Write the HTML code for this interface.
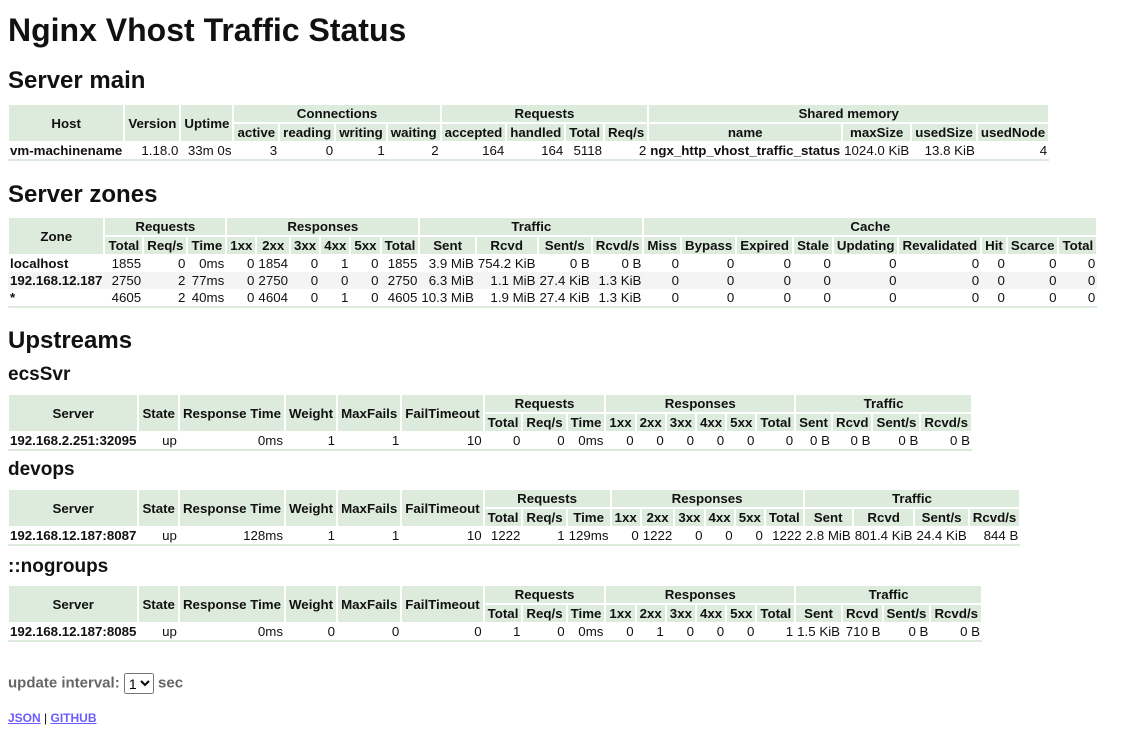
<!DOCTYPE html>
<html><head><meta charset="utf-8">
<style>
html,body{margin:0;padding:0;background:#fff;}
body{width:1137px;height:732px;position:relative;overflow:hidden;font-family:"Liberation Sans",Arial,sans-serif;color:#111;}
.blk{position:absolute;left:8px;margin:0;white-space:nowrap;}
h1.blk{font-size:32px;line-height:37px;top:12px;font-weight:bold;}
h2.blk{font-size:24px;line-height:28px;font-weight:bold;}
h3.blk{font-size:19px;line-height:22px;font-weight:bold;}
table{position:absolute;left:8px;border-collapse:separate;border-spacing:0;font-size:13.3px;border-bottom:2px solid #dcebdc;}
th{background:#dcebdc;border:1px solid #fff;padding:0 3px;line-height:17px;font-weight:bold;text-align:center;white-space:nowrap;}
td{padding:0 2px;line-height:17px;text-align:right;white-space:nowrap;}
td.n{text-align:left;font-weight:bold;}
tr.g td{background:#f4f4f4;}
.upd{position:absolute;left:8px;top:673px;font-size:15px;font-weight:bold;color:#666;line-height:20px;}
.upd select{font-size:14px;height:21px;vertical-align:middle;}
.links{position:absolute;left:8px;top:711px;font-size:12px;font-weight:bold;line-height:15px;}
.links a{color:#6a5cff;}
</style></head><body>
<h1 class="blk">Nginx Vhost Traffic Status</h1>
<h2 class="blk" style="top:67px">Server main</h2>
<table style="top:104px">
<tr><th rowspan="2">Host</th><th rowspan="2">Version</th><th rowspan="2">Uptime</th><th colspan="4">Connections</th><th colspan="4">Requests</th><th colspan="4">Shared memory</th></tr>
<tr><th>active</th><th>reading</th><th>writing</th><th>waiting</th><th>accepted</th><th>handled</th><th>Total</th><th>Req/s</th><th>name</th><th>maxSize</th><th>usedSize</th><th>usedNode</th></tr>
<tr><td class="n">vm-machinename</td><td>1.18.0</td><td>33m 0s</td><td>3</td><td>0</td><td>1</td><td>2</td><td>164</td><td>164</td><td>5118</td><td>2</td><td class="n">ngx_http_vhost_traffic_status</td><td>1024.0 KiB</td><td>13.8 KiB</td><td>4</td></tr>
</table>
<h2 class="blk" style="top:181px">Server zones</h2>
<table style="top:217px">
<tr><th rowspan="2">Zone</th><th colspan="3">Requests</th><th colspan="6">Responses</th><th colspan="4">Traffic</th><th colspan="9">Cache</th></tr>
<tr><th>Total</th><th>Req/s</th><th>Time</th><th>1xx</th><th>2xx</th><th>3xx</th><th>4xx</th><th>5xx</th><th>Total</th><th>Sent</th><th>Rcvd</th><th>Sent/s</th><th>Rcvd/s</th><th>Miss</th><th>Bypass</th><th>Expired</th><th>Stale</th><th>Updating</th><th>Revalidated</th><th>Hit</th><th>Scarce</th><th>Total</th></tr>
<tr><td class="n">localhost</td><td>1855</td><td>0</td><td>0ms</td><td>0</td><td>1854</td><td>0</td><td>1</td><td>0</td><td>1855</td><td>3.9 MiB</td><td>754.2 KiB</td><td>0 B</td><td>0 B</td><td>0</td><td>0</td><td>0</td><td>0</td><td>0</td><td>0</td><td>0</td><td>0</td><td>0</td></tr>
<tr class="g"><td class="n">192.168.12.187</td><td>2750</td><td>2</td><td>77ms</td><td>0</td><td>2750</td><td>0</td><td>0</td><td>0</td><td>2750</td><td>6.3 MiB</td><td>1.1 MiB</td><td>27.4 KiB</td><td>1.3 KiB</td><td>0</td><td>0</td><td>0</td><td>0</td><td>0</td><td>0</td><td>0</td><td>0</td><td>0</td></tr>
<tr><td class="n">*</td><td>4605</td><td>2</td><td>40ms</td><td>0</td><td>4604</td><td>0</td><td>1</td><td>0</td><td>4605</td><td>10.3 MiB</td><td>1.9 MiB</td><td>27.4 KiB</td><td>1.3 KiB</td><td>0</td><td>0</td><td>0</td><td>0</td><td>0</td><td>0</td><td>0</td><td>0</td><td>0</td></tr>
</table>
<h2 class="blk" style="top:327px">Upstreams</h2>
<h3 class="blk" style="top:364px">ecsSvr</h3>
<table style="top:394px">
<tr><th rowspan="2">Server</th><th rowspan="2">State</th><th rowspan="2">Response Time</th><th rowspan="2">Weight</th><th rowspan="2">MaxFails</th><th rowspan="2">FailTimeout</th><th colspan="3">Requests</th><th colspan="6">Responses</th><th colspan="4">Traffic</th></tr>
<tr><th>Total</th><th>Req/s</th><th>Time</th><th>1xx</th><th>2xx</th><th>3xx</th><th>4xx</th><th>5xx</th><th>Total</th><th>Sent</th><th>Rcvd</th><th>Sent/s</th><th>Rcvd/s</th></tr>
<tr><td class="n">192.168.2.251:32095</td><td>up</td><td>0ms</td><td>1</td><td>1</td><td>10</td><td>0</td><td>0</td><td>0ms</td><td>0</td><td>0</td><td>0</td><td>0</td><td>0</td><td>0</td><td>0 B</td><td>0 B</td><td>0 B</td><td>0 B</td></tr>
</table>
<h3 class="blk" style="top:459px">devops</h3>
<table style="top:489px">
<tr><th rowspan="2">Server</th><th rowspan="2">State</th><th rowspan="2">Response Time</th><th rowspan="2">Weight</th><th rowspan="2">MaxFails</th><th rowspan="2">FailTimeout</th><th colspan="3">Requests</th><th colspan="6">Responses</th><th colspan="4">Traffic</th></tr>
<tr><th>Total</th><th>Req/s</th><th>Time</th><th>1xx</th><th>2xx</th><th>3xx</th><th>4xx</th><th>5xx</th><th>Total</th><th>Sent</th><th>Rcvd</th><th>Sent/s</th><th>Rcvd/s</th></tr>
<tr><td class="n">192.168.12.187:8087</td><td>up</td><td>128ms</td><td>1</td><td>1</td><td>10</td><td>1222</td><td>1</td><td>129ms</td><td>0</td><td>1222</td><td>0</td><td>0</td><td>0</td><td>1222</td><td>2.8 MiB</td><td>801.4 KiB</td><td>24.4 KiB</td><td>844 B</td></tr>
</table>
<h3 class="blk" style="top:556px">::nogroups</h3>
<table style="top:585px">
<tr><th rowspan="2">Server</th><th rowspan="2">State</th><th rowspan="2">Response Time</th><th rowspan="2">Weight</th><th rowspan="2">MaxFails</th><th rowspan="2">FailTimeout</th><th colspan="3">Requests</th><th colspan="6">Responses</th><th colspan="4">Traffic</th></tr>
<tr><th>Total</th><th>Req/s</th><th>Time</th><th>1xx</th><th>2xx</th><th>3xx</th><th>4xx</th><th>5xx</th><th>Total</th><th>Sent</th><th>Rcvd</th><th>Sent/s</th><th>Rcvd/s</th></tr>
<tr><td class="n">192.168.12.187:8085</td><td>up</td><td>0ms</td><td>0</td><td>0</td><td>0</td><td>1</td><td>0</td><td>0ms</td><td>0</td><td>1</td><td>0</td><td>0</td><td>0</td><td>1</td><td>1.5 KiB</td><td>710 B</td><td>0 B</td><td>0 B</td></tr>
</table>
<div class="upd">update interval: <select><option>1</option></select> sec</div>
<div class="links"><a href="#">JSON</a> <span style="color:#111;font-weight:normal">|</span> <a href="#">GITHUB</a></div>
</body></html>
